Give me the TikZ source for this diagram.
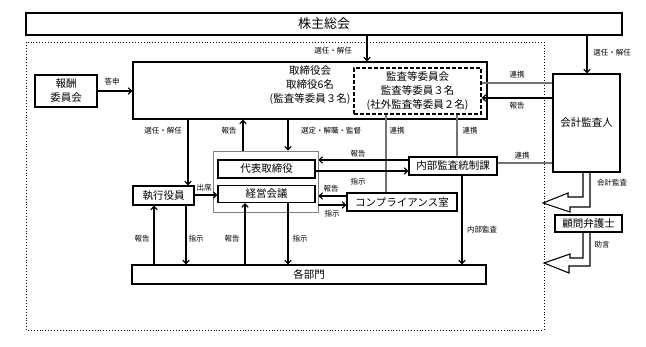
\documentclass[tikz,border=0pt]{standalone}
\usepackage{fontspec}
\setmainfont{Noto Sans CJK JP}
\usetikzlibrary{arrows.meta}
\begin{document}
\begin{tikzpicture}[x=1pt,y=-1pt,
  box/.style={draw, line width=1.1pt, inner sep=0pt, align=center, font=\fontsize{10.5}{14}\selectfont},
  lbl/.style={inner sep=0pt, font=\fontsize{7.5}{9}\selectfont},
  arr/.style={-{Straight Barb[length=3.5pt,width=6.5pt]}, line width=1.1pt},
  link/.style={draw=black!55, line width=2pt},
  blockarrow/.style={line width=1.1pt, line join=miter}]
\useasboundingbox (0,0) rectangle (646,346);
% frame
\draw[dotted, line width=0.9pt] (26,42) rectangle (544,330);
% nodes
\node[box, minimum width=596pt, minimum height=22pt, font=\fontsize{13}{15}\selectfont] (soukai) at (324,24) {株主総会};
\node[box, minimum width=354pt, minimum height=57pt] (tori) at (310,90.5) {};
\node[inner sep=0pt, align=center, font=\fontsize{10.5}{14}\selectfont] (toritext) at (310,85) {取締役会\\取締役6名\\(監査等委員３名)};
\node[box, dash pattern=on 4pt off 2pt, minimum width=127pt, minimum height=46pt] (kansa) at (417.5,91) {監査等委員会\\監査等委員３名\\(社外監査等委員２名)};
\node[box, minimum width=62pt, minimum height=32pt] (housyu) at (66,91) {報酬\\委員会};
\node[box, minimum width=67pt, minimum height=98pt] (kaikei) at (586.5,123) {会計監査人};
\node[draw=gray, line width=0.7pt, minimum width=105pt, minimum height=61pt, inner sep=0pt] (group) at (265.5,181.5) {};
\node[box, minimum width=97pt, minimum height=18pt] (daihyou) at (266.5,169) {代表取締役};
\node[box, minimum width=97pt, minimum height=17pt] (keiei) at (266.5,194) {経営会議};
\node[box, minimum width=61pt, minimum height=19pt] (shikkou) at (163.5,195.5) {執行役員};
\node[box, minimum width=88pt, minimum height=18pt] (naibu) at (453,166) {内部監査統制課};
\node[box, minimum width=110pt, minimum height=18pt] (comp) at (402,202) {コンプライアンス室};
\node[box, minimum width=354pt, minimum height=19pt] (kakubu) at (309,274.5) {各部門};
\node[box, minimum width=67pt, minimum height=17pt] (komon) at (588.5,223.5) {顧問弁護士};
% connectors
\draw[arr] (367,0 |- soukai.south) -- (367,0 |- tori.north);
\draw[arr] (587,0 |- soukai.south) -- (587,0 |- kaikei.north);
\draw[arr] (housyu.east) -- (housyu.east -| tori.west);
\draw[link] (kansa.east |- 0,83) -- (kaikei.west |- 0,83);
\draw[arr] (kaikei.west |- 0,98) -- (kansa.east |- 0,98);
\draw[arr] (188,0 |- tori.south) -- (188,0 |- shikkou.north);
\draw[arr] (243,0 |- group.north) -- (243,0 |- tori.south);
\draw[arr] (288,0 |- tori.south) -- (288,0 |- group.north);
\draw[link] (386,0 |- kansa.south) -- (386,0 |- comp.north);
\draw[link] (457,0 |- kansa.south) -- (457,0 |- naibu.north);
\draw[arr] (naibu.west |- 0,160) -- (group.east |- 0,160);
\draw[arr] (daihyou.east |- 0,171) -- (naibu.west |- 0,171);
\draw[link] (naibu.east |- 0,163) -- (kaikei.west |- 0,163);
\draw[arr] (shikkou.east |- 0,195) -- (keiei.west |- 0,195);
\draw[arr] (comp.west |- 0,196) -- (group.east |- 0,196);
\draw[arr] (group.east |- 0,205) -- (comp.west |- 0,205);
\draw[arr] (462,0 |- naibu.south) -- (462,0 |- kakubu.north);
\draw[arr] (154,0 |- kakubu.north) -- (154,0 |- shikkou.south);
\draw[arr] (186,0 |- shikkou.south) -- (186,0 |- kakubu.north);
\draw[arr] (245,0 |- kakubu.north) -- (245,0 |- keiei.south);
\draw[arr] (288,0 |- keiei.south) -- (288,0 |- kakubu.north);
% block arrows
\draw[blockarrow] (583,0 |- kaikei.south) -- (583,197) -- (568,197) -- (568,193) -- (543,203) -- (570,212) -- (570,207) -- (590,207) -- (590,0 |- kaikei.south);
\draw[blockarrow] (583,0 |- komon.south) -- (583,258) -- (570,258) -- (570,254) -- (544,263) -- (569,273) -- (569,266) -- (590,266) -- (590,0 |- komon.south);
% labels
\node[lbl] (l1) at (333,51) {選任・解任};
\node[lbl] (l2) at (612,53) {選任・解任};
\node[lbl] (l3) at (112,82) {答申};
\node[lbl] (l4) at (517,75) {連携};
\node[lbl] (l5) at (517,106) {報告};
\node[lbl] (l6) at (163,131) {選任・解任};
\node[lbl] (l7) at (229,131) {報告};
\node[lbl] (l8) at (331,131) {選定・解職・監督};
\node[lbl] (l9) at (397,131) {連携};
\node[lbl] (l10) at (470,131) {連携};
\node[lbl] (l11) at (358,154) {報告};
\node[lbl] (l12) at (358,182) {指示};
\node[lbl] (l13) at (522,156) {連携};
\node[lbl] (l14) at (204,188) {出席};
\node[lbl] (l15) at (331,189) {報告};
\node[lbl] (l16) at (332,214) {指示};
\node[lbl] (l17) at (482,230) {内部監査};
\node[lbl] (l18) at (142,239) {報告};
\node[lbl] (l19) at (196,239) {指示};
\node[lbl] (l20) at (232,239) {報告};
\node[lbl] (l21) at (300,239) {指示};
\node[lbl] (l22) at (612,183) {会計監査};
\node[lbl] (l23) at (602,245) {助言};
\end{tikzpicture}
\end{document}
